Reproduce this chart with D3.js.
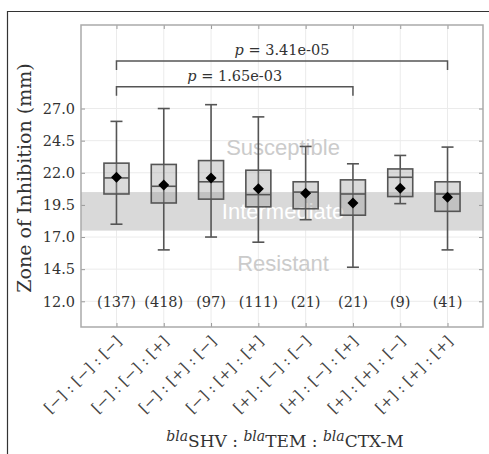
<!DOCTYPE html>
<html>
<head>
<meta charset="utf-8">
<script src="https://cdn.jsdelivr.net/npm/d3@7"></script>
<style>
  body { margin: 0; background: #fff; }
  svg { display: block; }
</style>
</head>
<body>
<svg id="chart" width="489" height="454"></svg>
<script>
// genotype groups (blaSHV : blaTEM : blaCTX-M)
var categories = ['[\u2212] : [\u2212] : [\u2212]', '[\u2212] : [\u2212] : [+]', '[\u2212] : [+] : [\u2212]', '[\u2212] : [+] : [+]',
                  '[+] : [\u2212] : [\u2212]', '[+] : [\u2212] : [+]', '[+] : [+] : [\u2212]', '[+] : [+] : [+]'];
var counts = [137, 418, 97, 111, 21, 21, 9, 41];
var whiskerLow  = [18.0, 16.0, 17.0, 16.6, 18.35, 14.65, 19.6, 16.0];
var q1          = [20.35, 19.65, 19.95, 19.35, 19.2, 18.7, 20.15, 19.0];
var medians     = [21.6, 20.95, 21.3, 20.3, 20.5, 20.35, 21.65, 20.35];
var q3          = [22.75, 22.65, 22.95, 22.2, 21.3, 21.45, 22.3, 21.3];
var whiskerHigh = [26.0, 27.0, 27.3, 26.35, 24.05, 22.7, 23.35, 24.0];
var means       = [21.65, 21.05, 21.6, 20.75, 20.4, 19.65, 20.8, 20.1];

var yTicks = [12.0, 14.5, 17.0, 19.5, 22.0, 24.5, 27.0];
var intermediateBand = [17.5, 20.5];
var zoneNames = ['Susceptible', 'Intermediate', 'Resistant'];
var zoneLevels = [24.0, 19.0, 15.0];
var countLevel = 12.0;

// significance brackets
var bracketFrom = [0, 0];
var bracketTo = [7, 5];
var bracketLevel = [30.7, 28.7];
var pValues = ['3.41e-05', '1.65e-03'];

var svg = d3.select('#chart');
var pLeft = 81, pRight = 483, pTop = 25, pBottom = 327;
var serif = 'DejaVu Serif';

// outer frame (cropped)
svg.append('path')
   .attr('d', 'M7.5,454V11.5H489')
   .attr('fill', 'none')
   .attr('stroke', '#333')
   .attr('stroke-width', 1.2);

var x = d3.scalePoint()
    .domain(categories)
    .range([pLeft, pRight])
    .padding(0.75);

var y = d3.scaleLinear()
    .domain([10, 33.5])
    .range([pBottom, pTop]);

// grid
svg.selectAll('.vgrid')
   .data(categories)
   .enter()
   .append('line')
   .attr('x1', d => x(d)).attr('x2', d => x(d))
   .attr('y1', pTop).attr('y2', pBottom)
   .attr('stroke', '#ebebeb');
svg.selectAll('.hgrid')
   .data(yTicks)
   .enter()
   .append('line')
   .attr('x1', pLeft).attr('x2', pRight)
   .attr('y1', d => y(d)).attr('y2', d => y(d))
   .attr('stroke', '#ebebeb');

// intermediate band
svg.append('rect')
   .attr('x', pLeft)
   .attr('y', y(intermediateBand[1]))
   .attr('width', pRight - pLeft)
   .attr('height', y(intermediateBand[0]) - y(intermediateBand[1]))
   .attr('fill', '#d9d9d9');

svg.selectAll('.zone')
   .data(zoneNames)
   .enter()
   .append('text')
   .text(d => d)
   .attr('x', (pLeft + pRight) / 2 + 1)
   .attr('y', (d, i) => y(zoneLevels[i]))
   .attr('dy', '0.36em')
   .attr('text-anchor', 'middle')
   .attr('font-family', 'Liberation Sans')
   .attr('font-size', '22px')
   .attr('fill', (d, i) => i == 1 ? '#ffffff' : '#cbcbcb');

// axes with inward ticks
var yAxis = d3.axisLeft(y).tickValues(yTicks).tickSize(-4).tickFormat('');
svg.append('g').attr('transform', 'translate(' + pLeft + ',0)').call(yAxis);
var yAxisR = d3.axisRight(y).tickValues(yTicks).tickSize(-4).tickFormat('');
svg.append('g').attr('transform', 'translate(' + pRight + ',0)').call(yAxisR);
var xAxis = d3.axisBottom(x).tickSize(-4).tickFormat('');
svg.append('g').attr('transform', 'translate(0,' + pBottom + ')').call(xAxis);
var xAxisT = d3.axisTop(x).tickSize(-4).tickFormat('');
svg.append('g').attr('transform', 'translate(0,' + pTop + ')').call(xAxisT);
svg.selectAll('.domain').remove();
svg.selectAll('.tick line').attr('stroke', '#999');

svg.append('rect')
   .attr('x', pLeft).attr('y', pTop)
   .attr('width', pRight - pLeft).attr('height', pBottom - pTop)
   .attr('fill', 'none')
   .attr('stroke', '#aaa')
   .attr('stroke-width', 1.5);

// y tick labels
svg.selectAll('.ylab')
   .data(yTicks)
   .enter()
   .append('text')
   .text(d => d.toFixed(1))
   .attr('x', 75)
   .attr('y', d => y(d))
   .attr('dy', '0.36em')
   .attr('text-anchor', 'end')
   .attr('font-family', serif)
   .attr('font-size', '14.5px')
   .attr('fill', '#333');

// boxes
var bw = 25, cap = 12, stroke = '#555';
var g = svg.selectAll('.box')
   .data(categories)
   .enter()
   .append('g');

g.append('line')
 .attr('x1', d => x(d)).attr('x2', d => x(d))
 .attr('y1', (d, i) => y(whiskerLow[i])).attr('y2', (d, i) => y(whiskerHigh[i]))
 .attr('stroke', stroke).attr('stroke-width', 1.6);
g.append('line')
 .attr('x1', d => x(d) - cap / 2).attr('x2', d => x(d) + cap / 2)
 .attr('y1', (d, i) => y(whiskerLow[i])).attr('y2', (d, i) => y(whiskerLow[i]))
 .attr('stroke', stroke).attr('stroke-width', 1.6);
g.append('line')
 .attr('x1', d => x(d) - cap / 2).attr('x2', d => x(d) + cap / 2)
 .attr('y1', (d, i) => y(whiskerHigh[i])).attr('y2', (d, i) => y(whiskerHigh[i]))
 .attr('stroke', stroke).attr('stroke-width', 1.6);
g.append('rect')
 .attr('x', d => x(d) - bw / 2)
 .attr('y', (d, i) => y(q3[i]))
 .attr('width', bw)
 .attr('height', (d, i) => y(q1[i]) - y(q3[i]))
 .attr('fill', 'rgba(150,150,150,0.35)')
 .attr('stroke', stroke).attr('stroke-width', 1.6);
g.append('line')
 .attr('x1', d => x(d) - bw / 2).attr('x2', d => x(d) + bw / 2)
 .attr('y1', (d, i) => y(medians[i])).attr('y2', (d, i) => y(medians[i]))
 .attr('stroke', stroke).attr('stroke-width', 1.6);
g.append('path')
 .attr('d', (d, i) => {
   var cx = x(d), cy = y(means[i]), r = 5.5;
   return 'M' + cx + ',' + (cy - r) + 'L' + (cx + r) + ',' + cy + 'L' + cx + ',' + (cy + r) + 'L' + (cx - r) + ',' + cy + 'Z';
 })
 .attr('fill', '#000');

// counts
svg.selectAll('.count')
   .data(counts)
   .enter()
   .append('text')
   .text(d => '(' + d + ')')
   .attr('x', (d, i) => x(categories[i]))
   .attr('y', y(countLevel))
   .attr('dy', '0.36em')
   .attr('text-anchor', 'middle')
   .attr('font-family', serif)
   .attr('font-size', '14.5px')
   .attr('fill', '#333');

// brackets
var drop = 0.7;
svg.selectAll('.bracket')
   .data(pValues)
   .enter()
   .append('path')
   .attr('d', (d, i) => {
     var x1 = x(categories[bracketFrom[i]]), x2 = x(categories[bracketTo[i]]);
     var yl = y(bracketLevel[i]), yt = y(bracketLevel[i] - drop);
     return 'M' + x1 + ',' + yt + 'V' + yl + 'H' + x2 + 'V' + yt;
   })
   .attr('fill', 'none')
   .attr('stroke', stroke)
   .attr('stroke-width', 1.5);

var pl = svg.selectAll('.plab')
   .data(pValues)
   .enter()
   .append('text')
   .attr('x', (d, i) => (x(categories[bracketFrom[i]]) + x(categories[bracketTo[i]])) / 2)
   .attr('y', (d, i) => y(bracketLevel[i]) - 6)
   .attr('text-anchor', 'middle')
   .attr('font-family', serif)
   .attr('font-size', '14.5px')
   .attr('fill', '#333');
pl.append('tspan').attr('font-style', 'italic').text('p');
pl.append('tspan').text(d => ' = ' + d);

// x tick labels
svg.selectAll('.xlab')
   .data(categories)
   .enter()
   .append('text')
   .text(d => d)
   .attr('transform', d => 'translate(' + (x(d) + 6) + ',' + 342 + ') rotate(-45)')
   .attr('text-anchor', 'end')
   .attr('font-family', serif)
   .attr('font-size', '15px')
   .attr('fill', '#444');

// axis titles
svg.append('text')
   .text('Zone of Inhibition (mm)')
   .attr('transform', 'translate(31,' + ((pTop + pBottom) / 2 + 2) + ') rotate(-90)')
   .attr('text-anchor', 'middle')
   .attr('font-family', serif)
   .attr('font-size', '19px')
   .attr('fill', '#333');

var genes = ['SHV', 'TEM', 'CTX-M'];
var xt = svg.append('text')
   .attr('x', 285)
   .attr('y', 447)
   .attr('text-anchor', 'middle')
   .attr('font-family', serif)
   .attr('font-size', '17px')
   .attr('fill', '#333');
genes.forEach(function(gname, i) {
  if (i > 0) xt.append('tspan').text(' : ');
  xt.append('tspan').attr('font-style', 'italic').attr('font-size', '14px').attr('dy', -6).text('bla');
  xt.append('tspan').attr('dy', 6).text(gname);
});
</script>
</body>
</html>
